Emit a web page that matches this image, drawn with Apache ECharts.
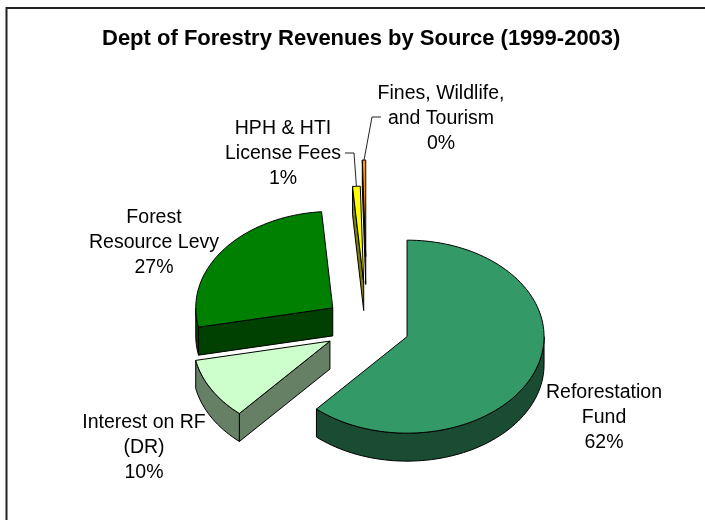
<!DOCTYPE html>
<html>
<head>
<meta charset="utf-8">
<style>
html, body { margin: 0; padding: 0; background: #fff; }
#main { width: 705px; height: 520px; }
</style>
<script src="https://cdn.jsdelivr.net/npm/echarts@6/dist/echarts.min.js"></script>
</head>
<body>
<div id="main"></div>
<script>
// slices, in the clockwise order of the chart, starting at 12 o'clock
var categories = ['Reforestation Fund', 'Interest on RF (DR)', 'Forest Resource Levy', 'HPH & HTI License Fees', 'Fines, Wildlife, and Tourism'];
var shares = [61.5, 10.3, 26.9, 0.9, 0.4];

// look of the slices
var topColors = ['#339966', '#CCFFCC', '#008000', '#FFFF00', '#FF9900'];
var sideColors = ['#1A4C33', '#668066', '#004000', '#808000', '#804C00'];
var explode = [0.3125, 0.3125, 0.3125, 0.45, 0.72];
var depth = 0.29;   // in ry units

// label lines as they wrap, and where the middle of each block sits
var labelLines = [
	['Reforestation', 'Fund'],
	['Interest on RF', '(DR)'],
	['Forest', 'Resource Levy'],
	['HPH & HTI', 'License Fees'],
	['Fines, Wildlife,', 'and Tourism']
];
var labelPos = [[604, 418], [144, 448], [154, 243], [283, 154], [441, 119]];
var leaderFrom = [null, null, null, [345, 153], [381, 117]];
var leaderElbow = [null, null, null, [354, 153], [372, 117]];

var LABEL_FONT = '"Liberation Sans", Arial, sans-serif';
var total = shares.reduce(function(a, b){ return a + b; }, 0);

// start angle of every slice in degrees, clockwise from the top
var starts = [];
var acc = 0;
for (var s = 0; s < shares.length; s++) {
	starts.push(acc / total * 360);
	acc += shares[s];
}

function rad(d){ return d * Math.PI / 180; }

function renderSlice(params, api){
	var i = api.value(1);
	var t0 = starts[i];
	var t1 = t0 + shares[i] / total * 360;
	var tm = (t0 + t1) / 2;
	var ox = Math.sin(rad(tm)) * explode[i];
	var oy = Math.cos(rad(tm)) * explode[i];

	function rimPt(t, drop){
		return api.coord([ox + Math.sin(rad(t)), oy + Math.cos(rad(t)) - (drop || 0)]);
	}
	function apexPt(drop){
		return api.coord([ox, oy - (drop || 0)]);
	}
	function arc(a, b, drop){
		var pts = [];
		var n = Math.max(2, Math.ceil(Math.abs(b - a) / 2));
		for (var k = 0; k <= n; k++) {
			pts.push(rimPt(a + (b - a) * k / n, drop));
		}
		return pts;
	}
	function face(points, fill){
		return {
			type: 'polygon',
			shape: { points: points },
			style: { fill: fill, stroke: '#000', lineWidth: 1, lineJoin: 'round' }
		};
	}

	var children = [];
	var side = sideColors[i];

	// end wall faces the viewer only in the right half, start wall only in the left half
	if (Math.sin(rad(t0)) < -0.001) {
		children.push(face([apexPt(), rimPt(t0), rimPt(t0, depth), apexPt(depth)], side));
	}
	if (Math.sin(rad(t1)) > 0.001) {
		children.push(face([apexPt(), rimPt(t1), rimPt(t1, depth), apexPt(depth)], side));
	}
	// outer wall, only the front half of the rim
	var a = Math.max(t0, 90);
	var b = Math.min(t1, 270);
	if (b > a) {
		children.push(face(arc(a, b).concat(arc(b, a, depth)), side));
	}
	// top
	children.push(face([apexPt()].concat(arc(t0, t1)), topColors[i]));

	// leader
	if (leaderFrom[i]) {
		children.push({
			type: 'polyline',
			shape: { points: [leaderFrom[i], leaderElbow[i], rimPt(tm)] },
			style: { fill: null, stroke: '#222', lineWidth: 1 }
		});
	}

	// label
	children.push({
		type: 'text',
		style: {
			x: labelPos[i][0],
			y: labelPos[i][1],
			text: labelLines[i].join('\n') + '\n' + Math.round(shares[i]) + '%',
			fill: '#000',
			font: '19.5px ' + LABEL_FONT,
			lineHeight: 25,
			align: 'center',
			verticalAlign: 'middle'
		}
	});

	return { type: 'group', children: children };
}

var sliceData = shares.map(function(v, i){ return [v, i]; });
// back to front
var drawOrder = [4, 3, 2, 1, 0];

var chart = echarts.init(document.getElementById('main'), null, { renderer: 'canvas' });
chart.setOption({
	animation: false,
	backgroundColor: '#fff',
	title: {
		text: 'Dept of Forestry Revenues by Source (1999-2003)',
		left: 97,
		top: 23,
		textStyle: { color: '#000', fontFamily: LABEL_FONT, fontWeight: 'bold', fontSize: 22 }
	},
	// unit pie: the axes map -1..1 onto the radii of the ellipse
	grid: { left: 230, width: 274, top: 229.5, height: 193 },
	xAxis: { type: 'value', min: -1, max: 1, show: false },
	yAxis: { type: 'value', min: -1, max: 1, show: false },
	series: [{
		type: 'custom',
		coordinateSystem: 'cartesian2d',
		renderItem: renderSlice,
		encode: { x: -1, y: -1 },
		data: drawOrder.map(function(i){ return sliceData[i]; }),
		clip: false,
		silent: true
	}],
	graphic: [{
		type: 'polyline',
		shape: { points: [[6.5, 520], [6.5, 8], [705, 8]] },
		style: { fill: null, stroke: '#222', lineWidth: 2 }
	}]
});
</script>
</body>
</html>
